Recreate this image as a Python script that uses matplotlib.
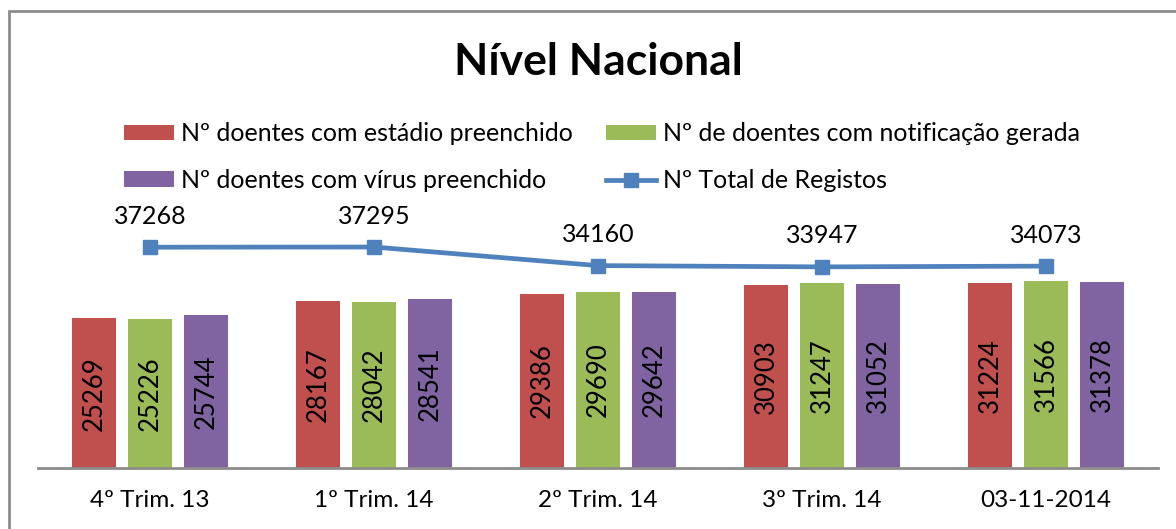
import matplotlib.pyplot as plt
from matplotlib.patches import Rectangle
import numpy as np

categories = ["4º Trim. 13", "1º Trim. 14", "2º Trim. 14", "3º Trim. 14", "03-11-2014"]
estadio = [25269, 28167, 29386, 30903, 31224]
notificacao = [25226, 28042, 29690, 31247, 31566]
virus = [25744, 28541, 29642, 31052, 31378]
total = [37268, 37295, 34160, 33947, 34073]

series_names = ["Nº doentes com estádio preenchido",
                "Nº de doentes com notificação gerada",
                "Nº doentes com vírus preenchido",
                "Nº Total de Registos"]
COLORS = ['#C0504D', '#9BBB59', '#8064A2', '#4F81BD']

plt.rcParams['font.family'] = ['Lato', 'DejaVu Sans']
FS = 17.5

W, H = 1176, 529
fig = plt.figure(figsize=(W / 100, H / 100), dpi=100)

# chart area border (only top/left visible in the crop)
fig.patches.append(Rectangle((9 / W, 0 - 0.1), 1.2, 1 - 11 / H + 0.1,
                             transform=fig.transFigure, fill=False,
                             edgecolor='#8c8c8c', linewidth=2))

ax = fig.add_axes([38 / W, (H - 468) / H, 1120 / W, (468 - 231) / H])
x = np.arange(len(categories))
bw = 0.2
off = 0.25

bars = []
for i, vals in enumerate([estadio, notificacao, virus]):
    b = ax.bar(x + (i - 1) * off, vals, width=bw, color=COLORS[i],
               label=series_names[i], zorder=2)
    bars.append(b)
    for rect, v in zip(b, vals):
        ax.text(rect.get_x() + rect.get_width() / 2, v / 2, str(v),
                rotation=90, ha='center', va='center', fontsize=18.5,
                color='black')

line, = ax.plot(x, total, color=COLORS[3], linewidth=3.4, marker='s',
                markersize=10, label=series_names[3], zorder=3)
for xi, v in zip(x, total):
    ax.annotate(str(v), (xi, v), xytext=(0, 14), textcoords='offset points',
                ha='center', va='bottom', fontsize=18, annotation_clip=False)

ax.set_xlim(-0.5, len(categories) - 0.5)
ax.set_ylim(0, 40000)
ax.set_yticks([])
ax.set_xticks(x)
ax.set_xticklabels(categories, fontsize=FS)
ax.tick_params(axis='x', length=0, pad=16)
for s in ['top', 'right', 'left']:
    ax.spines[s].set_visible(False)
ax.spines['bottom'].set_color('#8c8c8c')
ax.spines['bottom'].set_linewidth(2)

fig.text(598 / W, 1 - 62 / H, "Nível Nacional", ha='center', va='center',
         fontsize=32, fontweight='bold')

handles = [bars[0], bars[2], bars[1], line]
labels = [series_names[0], series_names[2], series_names[1], series_names[3]]
fig.legend(handles, labels, ncol=2, loc='center', bbox_to_anchor=(602 / W, 1 - 157 / H),
           frameon=False, fontsize=18, handlelength=2.0, handleheight=0.56,
           handletextpad=0.3, columnspacing=1.3, labelspacing=0.95)

plt.savefig('out.png', dpi=100)
plt.close()
